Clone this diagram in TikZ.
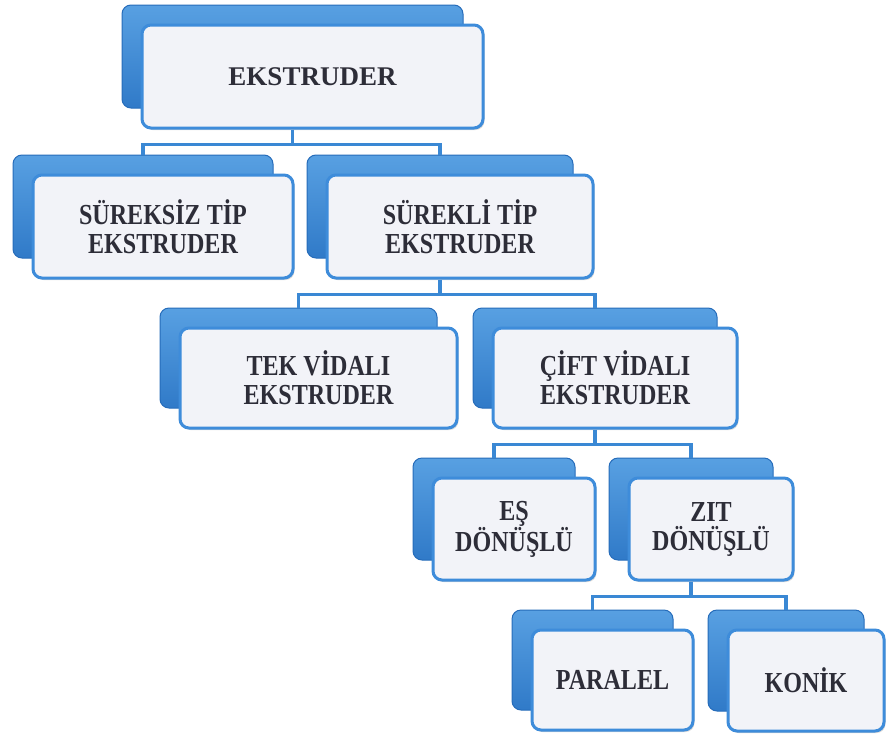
\documentclass[tikz,border=0pt]{standalone}
\usepackage{fontspec}
\usepackage{tikz}
\usetikzlibrary{%
    shadows%
}
\newfontfamily\cardfont[FakeStretch=0.83]{Liberation Serif}
\newfontfamily\topfont{Liberation Serif}
\definecolor{cardline}{RGB}{62,140,218}
\definecolor{cardfill}{RGB}{242,243,248}
\definecolor{backtop}{RGB}{88,160,226}
\definecolor{backbottom}{RGB}{48,122,200}
\definecolor{backline}{RGB}{38,108,186}
\definecolor{linkblue}{RGB}{58,136,212}
\definecolor{cardtext}{RGB}{45,45,56}

\begin{document}
\begin{tikzpicture}[
  x=1pt, y=-1pt,
  backcard/.style={rounded corners=9pt, draw=backline, line width=1pt,
    top color=backtop, bottom color=backbottom, inner sep=0pt},
  card/.style={rounded corners=9pt, draw=cardline, line width=3pt,
    fill=cardfill, align=center, inner sep=0pt, text=cardtext,
    font={\cardfont\bfseries\fontsize{29}{29}\selectfont},
    drop shadow={shadow xshift=1.5pt, shadow yshift=-2pt, opacity=0.3}},
  link/.style={draw=linkblue, line width=3.5pt},
  ]
  % page
  \fill[white] (0,0) rectangle (886,742);
  \useasboundingbox (0,0) rectangle (886,742);
  % cards: name / x / y / width / height / text
  \foreach \n/\x/\y/\w/\h/\t in {
      r/312.5/76.5/341/103/{\topfont\bfseries\fontsize{27}{25}\selectfont EKSTRUDER},
      a/163/226.5/260/103/{SÜREKSİZ TİP\\EKSTRUDER},
      b/460/226.5/266/103/{SÜREKLİ TİP\\EKSTRUDER},
      c/318.5/378/277/100/{TEK VİDALI\\EKSTRUDER},
      d/615/378/244/100/{ÇİFT VİDALI\\EKSTRUDER},
      e/514/529/162/102/{EŞ\\DÖNÜŞLÜ},
      f/711/529/164/102/{ZIT\\DÖNÜŞLÜ},
      g/612.5/680/161/100/{PARALEL},
      h/806/680.5/156/101/{KONİK}} {
    \node[backcard, minimum width=\w, minimum height=\h] (\n-bk) at (\x-20,\y-20) {};
    \node[card, minimum width=\w, minimum height=\h] (\n) at (\x,\y) {\t};
  }
  % connectors
  \draw[link] (r.south -| r-bk.center) -- ++(0,15) coordinate (r-j) -| (a-bk.north);
  \draw[link] (r-j) -| (b-bk.north);
  \draw[link] (b.south -| b-bk.center) -- ++(0,15) coordinate (b-j) -| (c-bk.north);
  \draw[link] (b-j) -| (d-bk.north);
  \draw[link] (d.south -| d-bk.center) -- ++(0,15) coordinate (d-j) -| (e-bk.north);
  \draw[link] (d-j) -| (f-bk.north);
  \draw[link] (f.south -| f-bk.center) -- ++(0,15) coordinate (f-j) -| (g-bk.north);
  \draw[link] (f-j) -| (h-bk.north);
\end{tikzpicture}
\end{document}
